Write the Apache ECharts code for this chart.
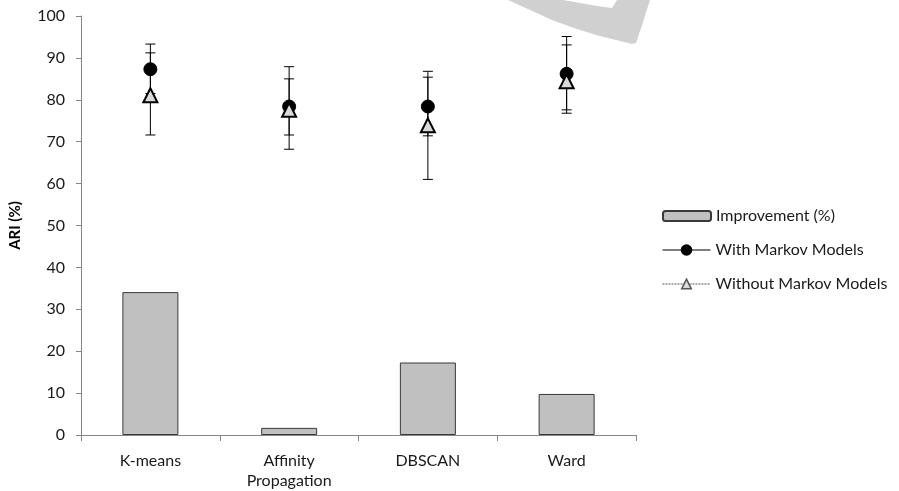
<!DOCTYPE html>
<html>
<head>
<meta charset="utf-8">
<script src="https://cdn.jsdelivr.net/npm/echarts@6/dist/echarts.min.js"></script>
<style>
html,body{margin:0;padding:0;background:#fff;}
#chart{width:899px;height:491px;}
</style>
</head>
<body>
<div id="chart"></div>
<script>
var categories = ['K-means', 'Affinity\nPropagation', 'DBSCAN', 'Ward'];
var improvement = [34.1, 1.7, 17.3, 9.8];
var withMarkov = [87.3, 78.4, 78.4, 86.2];
var withoutMarkov = [81.1, 77.6, 73.9, 84.4];
var withLow = [81.5, 68.2, 71.4, 77.6];
var withHigh = [93.3, 87.9, 86.8, 95.1];
var withoutLow = [71.6, 71.6, 61.0, 76.8];
var withoutHigh = [91.2, 85.0, 85.4, 93.1];
var yTicks = {min: 0, max: 100, interval: 10};

var FONT = 'Lato, "Open Sans", sans-serif';

function errData(lo, hi) {
  return lo.map(function (v, i) { return [i, v, hi[i]]; });
}
function renderErr(params, api) {
  var i = api.value(0);
  var p1 = api.coord([i, api.value(1)]);
  var p2 = api.coord([i, api.value(2)]);
  var hw = 5;
  var st = {stroke: '#000', lineWidth: 1};
  return {
    type: 'group',
    children: [
      {type: 'line', shape: {x1: p1[0], y1: p1[1], x2: p2[0], y2: p2[1]}, style: st},
      {type: 'line', shape: {x1: p1[0] - hw, y1: p1[1], x2: p1[0] + hw, y2: p1[1]}, style: st},
      {type: 'line', shape: {x1: p2[0] - hw, y1: p2[1], x2: p2[0] + hw, y2: p2[1]}, style: st}
    ]
  };
}

var chart = echarts.init(document.getElementById('chart'), null, {renderer: 'canvas'});
chart.setOption({
  animation: false,
  backgroundColor: '#fff',
  textStyle: {fontFamily: FONT},
  grid: {left: 77, right: 263, top: 16, bottom: 47, containLabel: false},
  graphic: [{
    type: 'polygon',
    z: -10,
    shape: {
      points: [[508, 0], [530, 10], [552, 20], [574, 28], [596, 35], [616, 40], [632, 44],
               [636, 43], [643, 22], [650, 0], [617, 0], [612, 8], [597, 6], [580, 3], [563, 0]]
    },
    style: {fill: '#d0d0d0'}
  }],
  legend: [{
    orient: 'vertical',
    left: 657,
    top: 203,
    itemWidth: 48,
    itemHeight: 10,
    itemGap: 24,
    textStyle: {fontSize: 16, color: '#1a1a1a', fontFamily: FONT},
    data: [{name: 'Improvement (%)'}]
  }, {
    orient: 'vertical',
    left: 657,
    top: 237,
    itemWidth: 48,
    itemHeight: 12,
    itemGap: 18,
    textStyle: {fontSize: 16, color: '#1a1a1a', fontFamily: FONT},
    data: [
      {name: 'With Markov Models', lineStyle: {opacity: 1, width: 1, color: '#000', type: 'solid'}},
      {name: 'Without Markov Models', lineStyle: {opacity: 1, width: 1, color: '#555', type: [2, 1]},
       itemStyle: {borderWidth: 1.5, borderColor: '#555'}}
    ]
  }],
  xAxis: {
    type: 'category',
    data: categories,
    boundaryGap: true,
    axisLine: {lineStyle: {color: '#868686', width: 1}},
    axisTick: {show: true, length: 6, alignWithLabel: false, lineStyle: {color: '#868686'}},
    axisLabel: {fontSize: 16, color: '#1a1a1a', margin: 16, lineHeight: 20, interval: 0, fontFamily: FONT}
  },
  yAxis: {
    type: 'value',
    min: yTicks.min,
    max: yTicks.max,
    interval: yTicks.interval,
    name: 'ARI (%)',
    nameLocation: 'middle',
    nameGap: 58,
    nameRotate: 90,
    nameTextStyle: {fontSize: 15, fontWeight: 'bold', color: '#000', fontFamily: FONT},
    splitLine: {show: false},
    axisLine: {show: true, lineStyle: {color: '#868686', width: 1}},
    axisTick: {show: true, length: 5, lineStyle: {color: '#868686'}},
    axisLabel: {fontSize: 16, color: '#1a1a1a', margin: 16, fontFamily: FONT}
  },
  series: [{
    name: 'Improvement (%)',
    type: 'bar',
    data: improvement,
    barWidth: 56,
    itemStyle: {color: '#c0c0c0', borderColor: '#3a3a3a', borderWidth: 1},
    z: 2
  }, {
    name: 'errWith',
    type: 'custom',
    data: errData(withLow, withHigh),
    renderItem: renderErr,
    z: 3,
    silent: true
  }, {
    name: 'errWithout',
    type: 'custom',
    data: errData(withoutLow, withoutHigh),
    renderItem: renderErr,
    z: 3,
    silent: true
  }, {
    name: 'With Markov Models',
    type: 'line',
    data: withMarkov,
    symbol: 'circle',
    symbolSize: 13,
    itemStyle: {color: '#000', borderColor: '#000', borderWidth: 1},
    lineStyle: {opacity: 0, color: '#000'},
    z: 5
  }, {
    name: 'Without Markov Models',
    type: 'line',
    data: withoutMarkov,
    symbol: 'triangle',
    symbolSize: [14, 14],
    itemStyle: {color: '#d9d9d9', borderColor: '#000', borderWidth: 2},
    lineStyle: {opacity: 0, color: '#555', type: 'dashed'},
    z: 6
  }]
});
</script>
</body>
</html>
